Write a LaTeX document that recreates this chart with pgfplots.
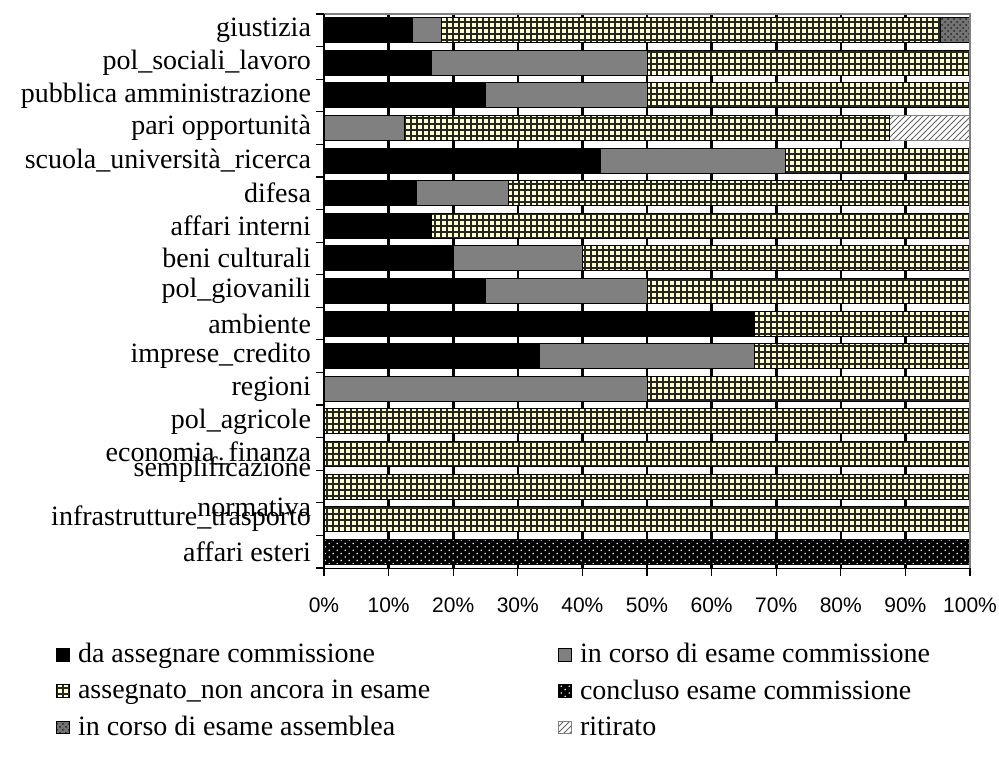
\documentclass[border=0pt]{standalone}
\usepackage{fontspec}
\setmainfont{Liberation Serif}
\newfontfamily\arialfont{Liberation Sans}
\usepackage{pgfplots}
\pgfplotsset{compat=1.18}
\usepackage{pgfplotstable}
\usetikzlibrary{patterns}

\definecolor{paleyellow}{RGB}{255,255,204}
\definecolor{midgray}{RGB}{128,128,128}

% square grid with heavy lines
\pgfdeclarepatternformonly{heavygrid}{\pgfqpoint{-0.5pt}{-0.5pt}}{\pgfqpoint{3.5pt}{3.5pt}}{\pgfqpoint{3pt}{3pt}}{%
  \pgfsetlinewidth{0.8pt}%
  \pgfpathmoveto{\pgfqpoint{-0.1pt}{1.5pt}}\pgfpathlineto{\pgfqpoint{3.1pt}{1.5pt}}%
  \pgfpathmoveto{\pgfqpoint{1.5pt}{-0.1pt}}\pgfpathlineto{\pgfqpoint{1.5pt}{3.1pt}}%
  \pgfusepath{stroke}}
% staggered sparse dots
\pgfdeclarepatternformonly{sparsedots}{\pgfqpoint{-1pt}{-1pt}}{\pgfqpoint{5pt}{5pt}}{\pgfqpoint{4pt}{3.4pt}}{%
  \pgfpathcircle{\pgfqpoint{0.6pt}{0.6pt}}{0.45pt}%
  \pgfpathcircle{\pgfqpoint{2.6pt}{2.3pt}}{0.45pt}%
  \pgfusepath{fill}}

% one row per ministry, top to bottom; values in percent
\pgfplotstableread{
a b c d e f
13.64 4.55 77.27 0 4.54 0
16.67 33.33 50 0 0 0
25 25 50 0 0 0
0 12.5 75 0 0 12.5
42.86 28.57 28.57 0 0 0
14.29 14.29 71.42 0 0 0
16.67 0 83.33 0 0 0
20 20 60 0 0 0
25 25 50 0 0 0
66.67 0 33.33 0 0 0
33.33 33.33 33.34 0 0 0
0 50 50 0 0 0
0 0 100 0 0 0
0 0 100 0 0 0
0 0 100 0 0 0
0 0 100 0 0 0
0 0 0 100 0 0
}\datatable

\begin{document}
\begin{tikzpicture}
\begin{axis}[
  name=ax,
  scale only axis, width=323pt, height=277pt,
  xbar stacked, bar width=12.5pt,
  xmin=0, xmax=100, ymin=-0.5, ymax=16.5,
  axis x line*=bottom, axis y line*=left,
  axis line style={black, line width=0.5pt},
  tick align=outside,
  major tick length=4pt,
  tick style={black, line width=0.6pt},
  xtick={0,10,...,100},
  xticklabels={0\%,10\%,20\%,30\%,40\%,50\%,60\%,70\%,80\%,90\%,100\%},
  xticklabel style={font=\arialfont\fontsize{10.5}{12}\selectfont, yshift=-7.5pt},
  ytick={-0.5,0.5,...,16.5},
  y tick label as interval,
  yticklabels={affari esteri, infrastrutture\_trasporto, {semplificazione\\normativa},
    economia\_finanza, pol\_agricole, regioni, imprese\_credito, ambiente,
    pol\_giovanili, beni culturali, affari interni, difesa,
    scuola\_università\_ricerca, pari opportunità, pubblica amministrazione,
    pol\_sociali\_lavoro, giustizia},
  yticklabel style={font=\fontsize{14}{20}\selectfont, align=right, xshift=1pt},
  sq/.style={legend image code/.code={\draw[##1, line width=0.5pt] (0pt,-3.2pt) rectangle (6.4pt,3.2pt);}},
  legend columns=2,
  legend cell align=left,
  legend style={draw=none, fill=none, at={(-0.4244,-0.121)}, anchor=north west,
    font=\fontsize{14}{17}\selectfont, row sep=3pt,
    /tikz/every odd column/.append style={column sep=2pt},
    /tikz/every even column/.append style={column sep=62pt}},
]
\addplot[sq, fill=black, draw=black, line width=0.5pt]
  table[x=a, y expr=16-\coordindex]{\datatable};
\addplot[sq, fill=midgray, draw=black, line width=0.5pt]
  table[x=b, y expr=16-\coordindex]{\datatable};
\addplot[sq, fill=paleyellow, draw=black, line width=0.5pt,
  postaction={pattern=heavygrid, pattern color=black!85}]
  table[x=c, y expr=16-\coordindex]{\datatable};
\addplot[sq, fill=black, draw=black, line width=0.5pt,
  postaction={pattern=sparsedots, pattern color=white!80!gray}]
  table[x=d, y expr=16-\coordindex]{\datatable};
\addplot[sq, fill=black!55, draw=black, line width=0.5pt,
  postaction={pattern=crosshatch dots, pattern color=black!85}]
  table[x=e, y expr=16-\coordindex]{\datatable};
\addplot[sq, fill=white, draw=midgray, line width=0.5pt,
  postaction={pattern=north east lines, pattern color=black!60}]
  table[x=f, y expr=16-\coordindex]{\datatable};
\legend{da assegnare commissione, in corso di esame commissione,
  assegnato\_non ancora in esame, concluso esame commissione,
  in corso di esame assemblea, ritirato}
\end{axis}
% vertical gridlines every 10% (32.3pt), in the gaps between bars (slot 277pt/17)
\begin{scope}
  \clip (ax.south west) rectangle (ax.north east);
  \foreach \i in {1,...,9} {
    \foreach \k in {0,...,17} {
      \draw[black, line width=1.3pt, line cap=butt]
        ([shift={(\i*32.3pt,\k*16.2941pt-1.85pt)}]ax.south west) -- ++(0pt,3.7pt);
    }
  }
\end{scope}
\draw[midgray, line width=1.4pt] (ax.north west) -- (ax.north east) -- (ax.south east);
\draw[black, line width=0.6pt] (ax.north west) -- (ax.south west);
\pgfresetboundingbox
\path[use as bounding box] ([shift={(-162pt,-100.5pt)}]ax.south west) rectangle ([shift={(14.5pt,7pt)}]ax.north east);
\end{tikzpicture}
\end{document}
